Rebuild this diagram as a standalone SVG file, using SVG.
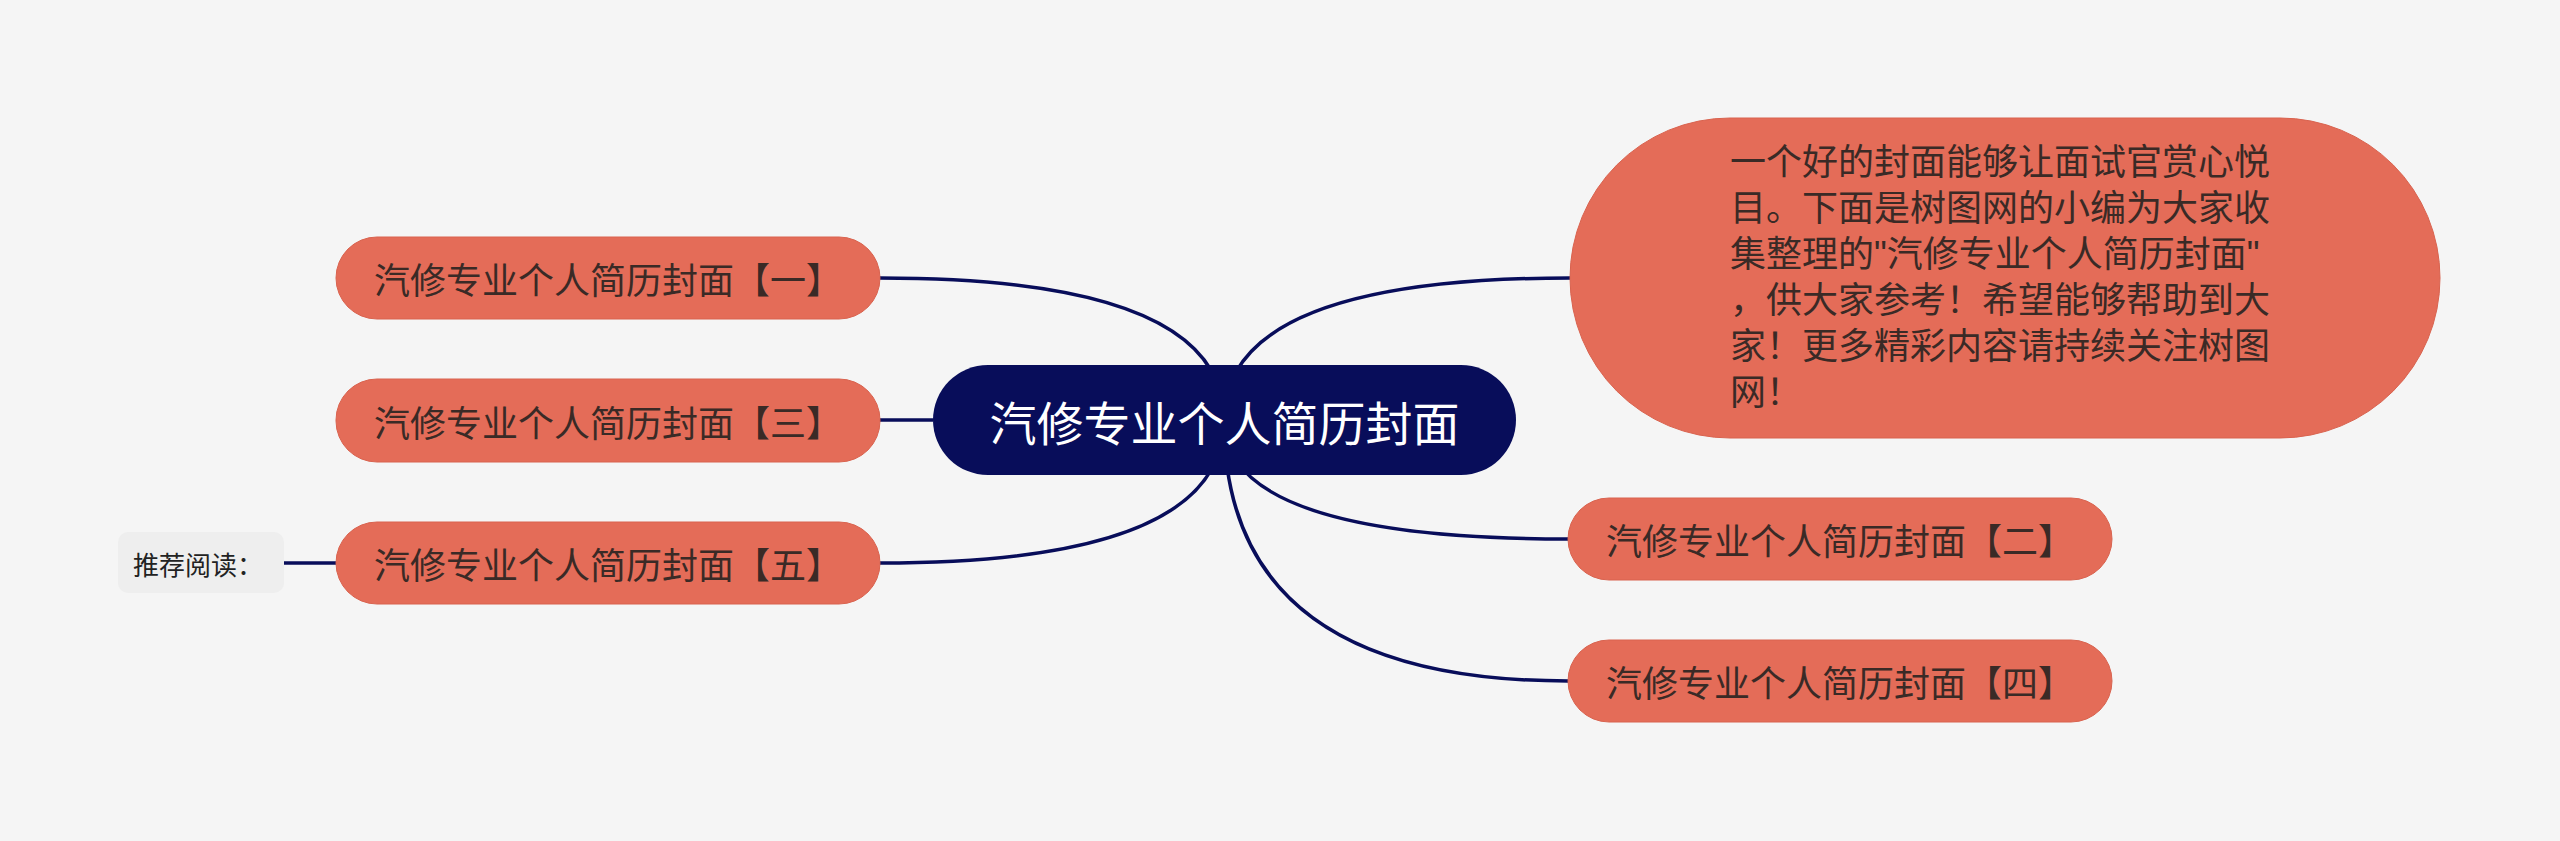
<svg xmlns="http://www.w3.org/2000/svg" width="2560" height="841" viewBox="0 0 2560 841">
<style>
.bg{fill:#f5f5f5}
.sub rect{fill:#e46c58;stroke:#d9634f;stroke-width:1}
.sub text{font-family:"Noto Sans CJK SC","Noto Sans",sans-serif;font-size:36px;fill:#3a2a26;dominant-baseline:central}
.sub text.para{font-family:"Liberation Sans","Noto Sans CJK SC",sans-serif;dominant-baseline:auto}
.root rect{fill:#080d5a}
.root text{font-family:"Noto Sans CJK SC","Noto Sans",sans-serif;font-size:47px;fill:#ffffff;dominant-baseline:central;text-anchor:middle}
.edges path{fill:none;stroke:#080d5a;stroke-width:3.5}
.note rect{fill:#eeeeee}
.note text{font-family:"Noto Sans CJK SC","Noto Sans",sans-serif;font-size:26px;fill:#222;dominant-baseline:central}
</style>
<rect class="bg" x="0" y="0" width="2560" height="841"/>
<g class="edges" id="connectors">
<path d="M1224 420 Q1224 278 880 278"/>
<path d="M880 420 L933 420"/>
<path d="M1224 420 Q1224 563 880 563"/>
<path d="M1224 420 Q1224 278 1570 278"/>
<path d="M1224 420 Q1224 539 1568 539"/>
<path d="M1224 420 Q1224 681 1568 681"/>
<path d="M284 563 L336 563"/>
</g>
<g class="root" id="root">
<rect x="933" y="365" width="583" height="110" rx="55" ry="55"/>
<text x="1224.5" y="420">汽修专业个人简历封面</text>
</g>
<g class="sub" id="n1">
<rect x="336" y="237" width="544" height="82" rx="41" ry="41"/>
<text x="608" y="278" text-anchor="middle">汽修专业个人简历封面【一】</text>
</g>
<g class="sub" id="n3">
<rect x="336" y="379" width="544" height="83" rx="41" ry="41"/>
<text x="608" y="420.5" text-anchor="middle">汽修专业个人简历封面【三】</text>
</g>
<g class="sub" id="n5">
<rect x="336" y="522" width="544" height="82" rx="41" ry="41"/>
<text x="608" y="563" text-anchor="middle">汽修专业个人简历封面【五】</text>
</g>
<g class="sub" id="n2">
<rect x="1568" y="498" width="544" height="82" rx="41" ry="41"/>
<text x="1840" y="539" text-anchor="middle">汽修专业个人简历封面【二】</text>
</g>
<g class="sub" id="n4">
<rect x="1568" y="640" width="544" height="82" rx="41" ry="41"/>
<text x="1840" y="681" text-anchor="middle">汽修专业个人简历封面【四】</text>
</g>
<g class="sub" id="desc">
<rect x="1570" y="118" width="870" height="320" rx="160" ry="160"/>
<text class="para" x="1730" y="175"><tspan x="1730" y="175">一个好的封面能够让面试官赏心悦</tspan><tspan x="1730" y="221">目。下面是树图网的小编为大家收</tspan><tspan x="1730" y="267">集整理的"汽修专业个人简历封面"</tspan><tspan x="1730" y="313">，供大家参考！希望能够帮助到大</tspan><tspan x="1730" y="359">家！更多精彩内容请持续关注树图</tspan><tspan x="1730" y="405">网！</tspan></text>
</g>
<g class="note" id="recommend">
<rect x="118" y="532" width="166" height="61" rx="10" ry="10"/>
<text x="133" y="563">推荐阅读：</text>
</g>
</svg>
